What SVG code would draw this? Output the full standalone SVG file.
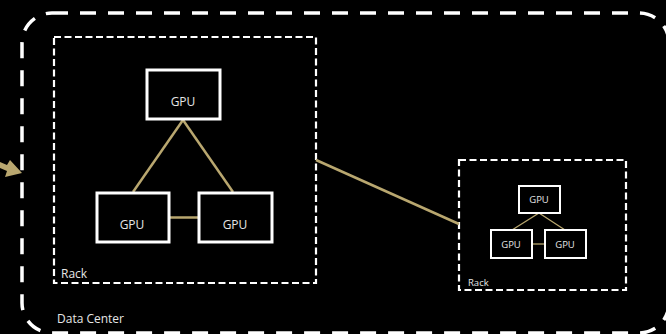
<svg xmlns="http://www.w3.org/2000/svg" width="666" height="334" viewBox="0 0 666 334">
<defs>
<style>
.dc{fill:none;stroke:#fff;stroke-width:3.5;stroke-dasharray:16 12}
.rack{fill:none;stroke:#fff;stroke-width:2.2;stroke-dasharray:7 3.5}
.gpu{fill:#000;stroke:#fff;stroke-width:3}
.gpus{fill:#000;stroke:#fff;stroke-width:2}
.lnk{stroke:#b9a76f;stroke-width:2.5;fill:none}
.lnks{stroke:#b9a76f;stroke-width:1.3;fill:none}
text{font-family:"Open Sans","Liberation Sans",sans-serif;fill:#e6e6e6}
.t{font-size:12px;text-anchor:middle}
.ts{font-size:9.5px;text-anchor:middle}
</style>
</defs>
<rect width="666" height="334" fill="#000"/>
<g id="datacenter">
<rect class="dc" x="22" y="13" width="647" height="320" rx="30"/>
<text x="57" y="323" font-size="12">Data Center</text>
</g>
<g id="rack1">
<rect class="rack" x="54" y="37" width="262" height="246"/>
<text x="61" y="278" font-size="12">Rack</text>
</g>
<g id="rack2">
<rect class="rack" x="459" y="160" width="167" height="130"/>
<text x="468" y="286" font-size="9.5">Rack</text>
</g>
<g id="connectors">
<line class="lnk" x1="183" y1="120" x2="133" y2="192"/>
<line class="lnk" x1="183" y1="120" x2="233" y2="192"/>
<line class="lnk" x1="170" y1="217.5" x2="198" y2="217.5"/>
<line class="lnk" x1="316" y1="160" x2="459" y2="224"/>
<line class="lnks" x1="539" y1="213" x2="512" y2="230"/>
<line class="lnks" x1="539" y1="213" x2="565" y2="230"/>
<line class="lnks" x1="532" y1="244" x2="545" y2="244"/>
<path d="M0 162 L7 165 L10 160 L22 173 L5 177 L7 171 L0 168 Z" fill="#b9a76f"/>
</g>
<g id="gpu1">
<rect class="gpu" x="147" y="70" width="73" height="49"/>
<text class="t" x="183" y="106">GPU</text>
</g>
<g id="gpu2">
<rect class="gpu" x="97" y="193" width="72" height="49"/>
<text class="t" x="132" y="229">GPU</text>
</g>
<g id="gpu3">
<rect class="gpu" x="199" y="193" width="73" height="49"/>
<text class="t" x="235" y="229">GPU</text>
</g>
<g id="gpu4">
<rect class="gpus" x="519" y="186" width="41" height="27"/>
<text class="ts" x="539" y="203">GPU</text>
</g>
<g id="gpu5">
<rect class="gpus" x="491" y="230" width="41" height="28"/>
<text class="ts" x="511" y="248">GPU</text>
</g>
<g id="gpu6">
<rect class="gpus" x="545" y="230" width="41" height="28"/>
<text class="ts" x="565" y="248">GPU</text>
</g>
</svg>
